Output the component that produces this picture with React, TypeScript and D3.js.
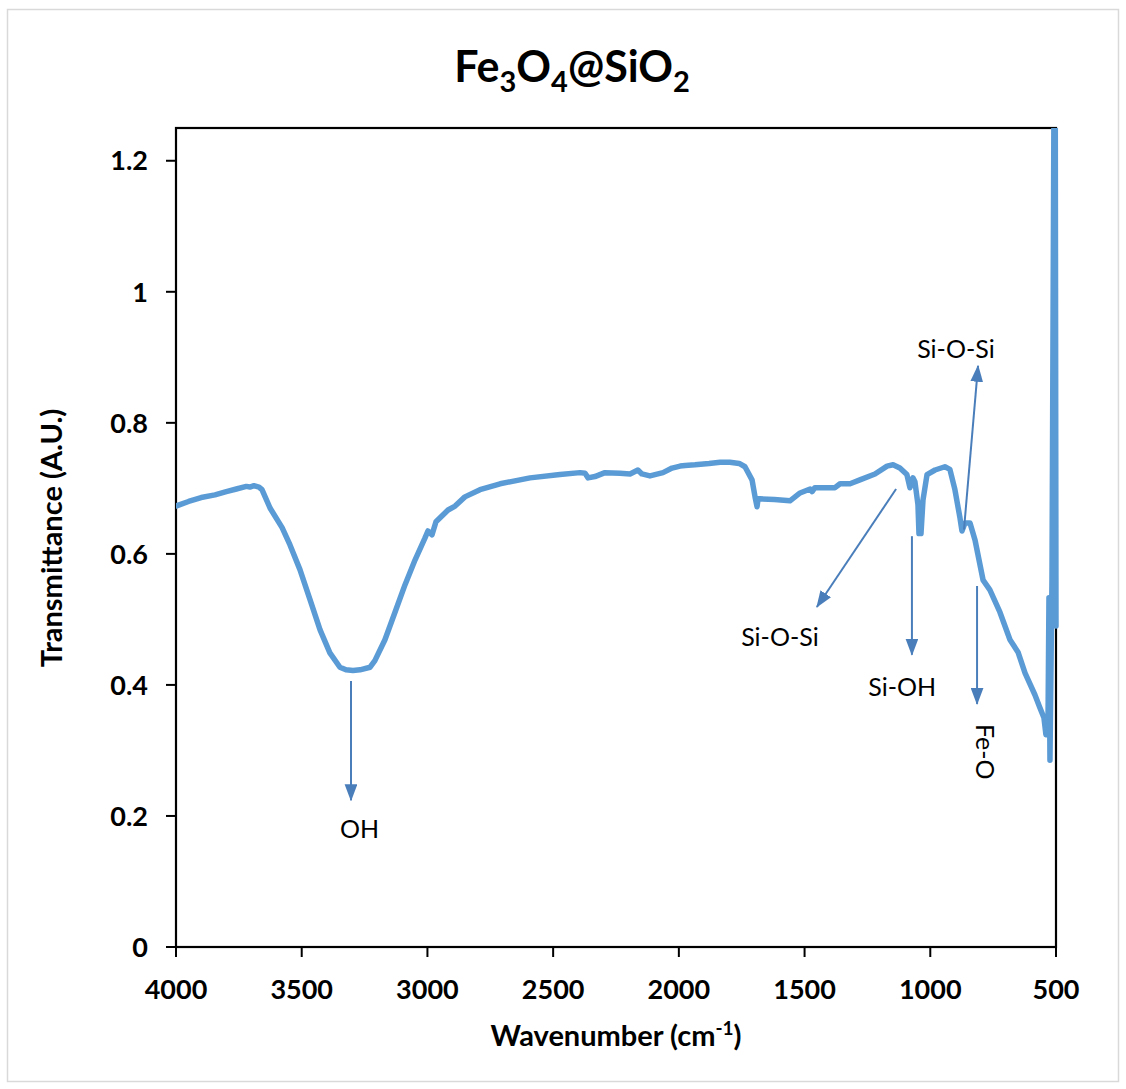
import React from "react";
import * as d3 from "d3";

const wavenumber = [4000, 3950, 3900, 3845, 3800, 3760, 3720, 3706, 3690, 3670, 3658, 3626, 3578, 3547, 3507, 3467, 3427, 3388, 3348, 3324, 3296, 3268, 3228, 3209, 3169, 3129, 3089, 3049, 3010, 2998, 2982, 2966, 2918, 2890, 2851, 2791, 2711, 2592, 2473, 2393, 2373, 2361, 2334, 2294, 2234, 2194, 2163, 2147, 2115, 2063, 2027, 1995, 1975, 1936, 1880, 1836, 1797, 1760, 1737, 1709, 1697, 1689, 1685, 1677, 1620, 1558, 1538, 1518, 1478, 1470, 1459, 1419, 1379, 1359, 1319, 1280, 1220, 1172, 1148, 1121, 1093, 1081, 1069, 1061, 1049, 1045, 1037, 1029, 1013, 981, 942, 922, 902, 882, 874, 862, 842, 822, 790, 763, 723, 683, 651, 623, 584, 564, 548, 540, 532, 528, 524, 516, 508, 503, 500];
const transmittance = [0.673, 0.680, 0.686, 0.690, 0.695, 0.699, 0.703, 0.702, 0.704, 0.702, 0.698, 0.670, 0.640, 0.614, 0.576, 0.530, 0.484, 0.449, 0.427, 0.423, 0.422, 0.423, 0.427, 0.437, 0.469, 0.511, 0.553, 0.591, 0.624, 0.635, 0.629, 0.649, 0.667, 0.673, 0.687, 0.698, 0.707, 0.716, 0.721, 0.724, 0.723, 0.716, 0.718, 0.724, 0.723, 0.722, 0.728, 0.722, 0.719, 0.724, 0.731, 0.734, 0.735, 0.736, 0.738, 0.740, 0.740, 0.738, 0.733, 0.713, 0.687, 0.672, 0.684, 0.684, 0.683, 0.681, 0.687, 0.693, 0.699, 0.695, 0.701, 0.701, 0.701, 0.707, 0.707, 0.713, 0.722, 0.734, 0.736, 0.731, 0.721, 0.701, 0.716, 0.710, 0.675, 0.631, 0.631, 0.682, 0.721, 0.728, 0.733, 0.729, 0.698, 0.655, 0.635, 0.647, 0.647, 0.621, 0.560, 0.545, 0.511, 0.469, 0.450, 0.418, 0.385, 0.365, 0.350, 0.324, 0.330, 0.533, 0.285, 0.560, 1.300, 1.300, 0.490];

const yTicks = [0, 0.2, 0.4, 0.6, 0.8, 1, 1.2];
const yTickLabels = ["0", "0.2", "0.4", "0.6", "0.8", "1", "1.2"];
const xTicks = [4000, 3500, 3000, 2500, 2000, 1500, 1000, 500];

// annotations: label, arrow start (w,t), arrow end (w,t), label anchor (w,t), rotated
const annLabels = ["OH", "Si-O-Si", "Si-OH", "Fe-O", "Si-O-Si"];
const annFromW = [3304, 1136, 1073, 814, 866];
const annFromT = [0.406, 0.699, 0.627, 0.551, 0.637];
const annToW = [3304, 1451, 1073, 814, 810];
const annToT = [0.224, 0.519, 0.446, 0.371, 0.887];
const annTextW = [3270, 1598, 1112, 782, 898];
const annTextT = [0.167, 0.459, 0.383, 0.298, 0.899];
const annRotate = [false, false, false, true, false];

export default function App() {
  const W = 1126, H = 1089;
  const x = d3.scaleLinear().domain([4000, 500]).range([176, 1056]);
  const y = d3.scaleLinear().domain([0, 1.25]).range([947, 128]);
  const pts = wavenumber.map((w, i) => [w, transmittance[i]] as [number, number]);
  const line = d3.line<[number, number]>().x(d => x(d[0])).y(d => y(d[1]));
  const font = "Lato, 'Open Sans', sans-serif";
  const arrowColor = "#4A7EBB";

  return (
    <svg width={W} height={H} style={{ position: "absolute", left: 0, top: 0 }} fontFamily={font}>
      <rect x={0} y={0} width={W} height={H} fill="#fff" />
      <rect x={7.5} y={9.5} width={1111} height={1072} fill="none" stroke="#d9d9d9" strokeWidth={1.5} />
      <defs>
        <clipPath id="plotclip">
          <rect x={x(4000)} y={y(1.25)} width={x(500) - x(4000) + 3} height={y(0) - y(1.25)} />
        </clipPath>
        <marker id="arrb" viewBox="0 0 16 12" refX={15} refY={6} markerWidth={17} markerHeight={13} orient="auto" markerUnits="userSpaceOnUse">
          <path d="M0,0 L16,6 L0,12 z" fill={arrowColor} />
        </marker>
      </defs>

      {/* title */}
      <text x={572} y={82} textAnchor="middle" fontWeight="bold" fontSize={43} fill="#000">
        Fe<tspan fontSize={29} dy={10}>3</tspan><tspan dy={-10}>O</tspan><tspan fontSize={29} dy={10}>4</tspan><tspan dy={-10}>@SiO</tspan><tspan fontSize={29} dy={10}>2</tspan>
      </text>

      {/* frame */}
      <rect x={x(4000)} y={y(1.25)} width={x(500) - x(4000)} height={y(0) - y(1.25)} fill="none" stroke="#000" strokeWidth={2.2} />

      {/* y ticks */}
      {yTicks.map((t, i) => (
        <g key={"y" + i}>
          <line x1={x(4000) - 10} x2={x(4000)} y1={y(t)} y2={y(t)} stroke="#000" strokeWidth={2} />
          <text x={148} y={y(t)} dy="0.36em" textAnchor="end" fontWeight="bold" fontSize={27} fill="#000">{yTickLabels[i]}</text>
        </g>
      ))}
      {/* x ticks */}
      {xTicks.map((t, i) => (
        <g key={"x" + i}>
          <line x1={x(t)} x2={x(t)} y1={y(0)} y2={y(0) + 10} stroke="#000" strokeWidth={2} />
          <text x={x(t)} y={999} textAnchor="middle" fontWeight="bold" fontSize={27} fill="#000">{String(t)}</text>
        </g>
      ))}

      {/* axis titles */}
      <text x={616} y={1046} textAnchor="middle" fontWeight="bold" fontSize={29} fill="#000">
        Wavenumber (cm<tspan fontSize={19} dy={-11}>-1</tspan><tspan dy={11}>)</tspan>
      </text>
      <text transform={`translate(62,538) rotate(-90)`} textAnchor="middle" fontWeight="bold" fontSize={29} fill="#000">
        Transmittance (A.U.)
      </text>

      {/* data */}
      <g clipPath="url(#plotclip)">
        <path d={line(pts) || ""} fill="none" stroke="#5B9BD5" strokeWidth={5.5} strokeLinejoin="round" strokeLinecap="round" />
      </g>

      {/* annotations */}
      {annLabels.map((lab, i) => (
        <g key={"a" + i}>
          <line x1={x(annFromW[i])} y1={y(annFromT[i])} x2={x(annToW[i])} y2={y(annToT[i])} stroke={arrowColor} strokeWidth={2} markerEnd="url(#arrb)" />
          {annRotate[i] ? (
            <text transform={`translate(${x(annTextW[i])},${y(annTextT[i])}) rotate(90)`} textAnchor="middle" dy="0.35em" fontSize={25} fill="#000">{lab}</text>
          ) : (
            <text x={x(annTextW[i])} y={y(annTextT[i])} textAnchor="middle" fontSize={25} fill="#000">{lab}</text>
          )}
        </g>
      ))}
    </svg>
  );
}
